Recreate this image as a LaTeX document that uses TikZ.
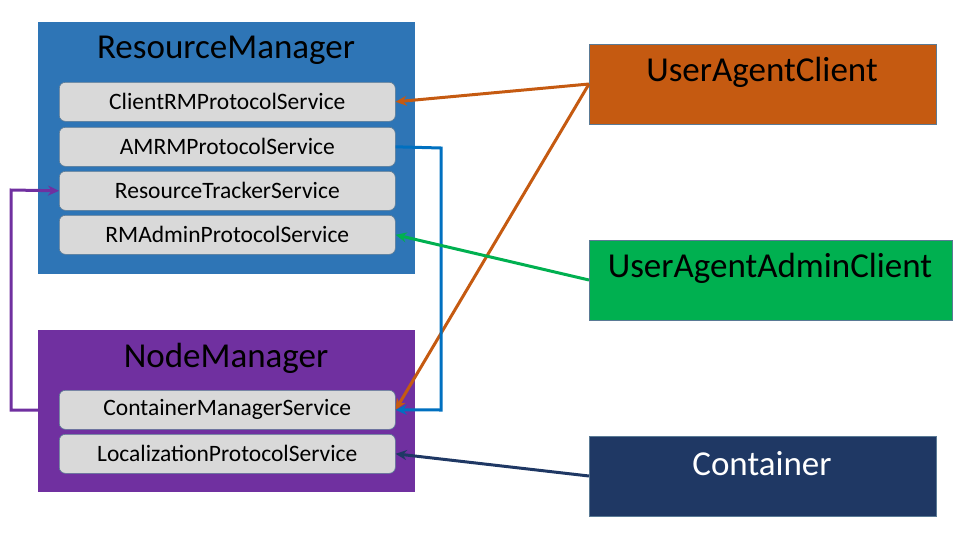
\documentclass[tikz,border=0pt]{standalone}
\usepackage{fontspec}
\setmainfont{Carlito}
\usetikzlibrary{arrows.meta,calc}
\definecolor{rmblue}{HTML}{2E75B6}
\definecolor{nmpurple}{HTML}{7030A0}
\definecolor{uaorange}{HTML}{C55A11}
\definecolor{uagreen}{HTML}{00B050}
\definecolor{cnavy}{HTML}{1F3864}
\definecolor{svcgray}{HTML}{D9D9D9}
\definecolor{svcedge}{HTML}{5A7A95}
\definecolor{linkblue}{HTML}{0070C0}
\begin{document}
\begin{tikzpicture}[x=1pt,y=-1pt,
  svc/.style={draw=svcedge,line width=0.6pt,fill=svcgray,rounded corners=6pt,minimum width=336pt,minimum height=39pt,anchor=north west,inner sep=0pt,font=\fontsize{23.5}{26}\selectfont},
  title/.style={font=\fontsize{35}{38}\selectfont},
  conn/.style={line width=3pt,-{Stealth[length=11pt,width=10pt]}}
]
\useasboundingbox (0,0) rectangle (970,550);
% containers
\fill[rmblue] (38,22) rectangle (415,274);
\node[title] (rmt) at (226,50) {ResourceManager};
\fill[nmpurple] (38,330) rectangle (415,492);
\node[title] (nmt) at (226,358) {NodeManager};
% services
\node[svc] (crm) at (59,82) {ClientRMProtocolService};
\node[svc] (amrm) at (59,127) {AMRMProtocolService};
\node[svc] (rts) at (59,171) {ResourceTrackerService};
\node[svc] (rmadm) at (59,215) {RMAdminProtocolService};
\node[svc] (cms) at (59,390) {ContainerManagerService};
\node[svc] (lps) at (59,434) {LocalizationProtocolService};
% clients
\fill[uaorange,draw=svcedge,line width=0.5pt] (589,44) rectangle (936,124);
\node[title] (uac) at (762,72) {UserAgentClient};
\coordinate (uacw) at (589,84);
\fill[uagreen,draw=svcedge,line width=0.5pt] (589,240) rectangle (952,320);
\node[title] (uaac) at (770,268) {UserAgentAdminClient};
\coordinate (uaacw) at (589,280);
\fill[cnavy,draw=svcedge,line width=0.5pt] (589,436) rectangle (936,516);
\node[title,text=white] (cont) at (762,464) {Container};
\coordinate (contw) at (589,476);
\coordinate (nmw) at (38,410);
% connectors
\draw[conn,uaorange] (uacw) -- (crm.east);
\draw[conn,uaorange] (uacw) -- (cms.east);
\draw[conn,linkblue] (amrm.east) -- (441,148) -- (441,410) -- (cms.east);
\draw[conn,uagreen] (uaacw) -- (rmadm.east);
\draw[conn,cnavy] (contw) -- (lps.east);
\draw[conn,nmpurple] (nmw) -- (11,410) -- (11,190) -- (rts.west);
\end{tikzpicture}
\end{document}
